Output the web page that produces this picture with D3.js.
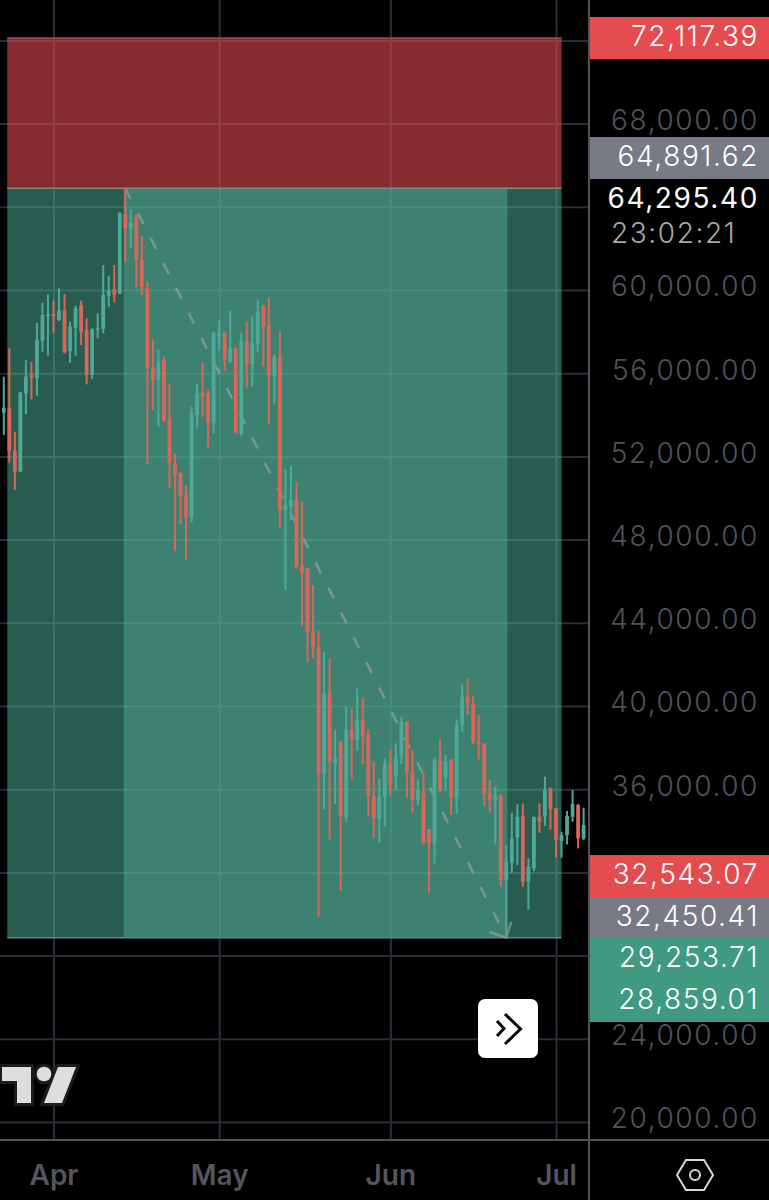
<!DOCTYPE html>
<html>
<head>
<meta charset="utf-8">
<title>Daily candles with short position</title>
<script src="https://cdnjs.cloudflare.com/ajax/libs/d3/7.8.5/d3.min.js"></script>
<style>
	html, body { margin: 0; padding: 0; background: #000; }
	svg { display: block; }
	text { font-family: "Inter", "Roboto", sans-serif; }
</style>
</head>
<body>
<div id="chart"></div>
<script>
//Candles, one per day from 23 Mar
const opens = [54102,54310,52275,51265,55032,55946,55753,57565,58751,58831,58558,59039,57068,58190,59280,58078,55913,58078,58126,59729,60033,59809,63640,62967,63528,61444,60081,56266,55673,56635,53829,51665,51185,50143,49101,53990,55080,55032,53589,57805,57949,56555,57228,53076,57516,56442,57404,59232,58318,55833,56795,49421,49584,49905,46779,46618,43573,42851,36760,40607,37241,38283,34676,38844,38363,39325,38603,35670,34596,35638,37241,36632,37562,39245,36840,35478,35878,34083,33394,37369,36519,37433,35558,39084,40447,40126,38283,38203,35830,35478,35718,31630,32464,33682,34708,31550,32192,34676,34676,36039,35077,33506,33794,34676,35237,33634];
const highs = [55833,57196,53188,55080,56635,56555,58430,59392,59793,59488,60081,59809,58478,59248,59488,58639,58158,58879,61203,60674,61203,63736,64891,63880,63640,62598,60402,57629,57116,56795,55481,52114,51233,50623,54391,55481,56506,55224,57997,58558,57949,59007,57228,57949,58478,58719,59552,59280,59632,56923,58029,51393,51540,50786,49824,46618,45817,43605,42611,42290,38844,38283,39966,39838,40848,40415,38876,37321,36487,37481,37914,38203,39485,39245,37882,36471,36792,34083,37529,38411,37642,37433,39357,41040,41329,40479,39565,38203,36439,36119,35766,33313,34869,35285,35317,32672,34676,35317,36600,36087,35077,33955,34948,35958,35285,35109];
const lows = [53028,51698,50383,51265,54022,54743,54920,57036,56843,57949,58510,56955,56506,56843,57356,55464,55721,57677,57917,59200,59408,59809,61332,62037,60113,59761,51633,54230,53429,53669,50463,47465,48748,47049,48828,53381,53910,52419,53108,57084,56122,56506,53108,52980,55272,55352,57003,56314,53541,54551,48540,45574,48943,46618,43845,42130,42290,29867,35028,33586,35285,31117,34436,36487,37850,37209,34724,33666,33426,34227,35686,35958,37209,35606,34869,35237,33345,31021,32432,35830,35958,34756,34804,38764,39565,38170,37433,35189,34869,33345,31310,28859,31983,32352,31310,30220,32063,33906,34227,34067,32720,32704,33345,34436,33153,33554];
const closes = [54343,52275,51265,55080,55833,55785,57597,58799,58831,58751,59007,57003,58238,59119,57997,55913,58110,58158,59761,59969,59761,63688,62967,63239,61444,60161,56266,55673,56506,53717,51665,51104,50095,49101,54070,55032,54871,53589,57917,57917,56635,57196,53140,57516,56394,57436,58959,58238,55881,56795,49421,49661,49905,46666,46378,43573,42851,36760,40607,37321,37481,34676,38844,38395,39325,38523,35670,34628,35638,37241,36199,37562,39245,36808,35478,35958,33426,33394,37401,35958,37321,35606,39084,40447,40126,38283,38122,35798,35478,35718,31630,32512,33634,34676,31550,32272,34676,34436,35958,35028,33554,33794,34708,35285,33634,34275];

//Tick values
const gridTicks = [20000,24000,28000,32000,36000,40000,44000,48000,52000,56000,60000,64000,68000,72000];
const labelTicks = [20000,24000,36000,40000,44000,48000,52000,56000,60000,68000];
const monthTicks = ["2021-04-01","2021-05-01","2021-06-01","2021-07-01"];

//Short position drawing
const stopPrice = 72117.39;
const entryPrice = 64891.62;
const targetPrice = 28859.01;
const zoneStart = "2021-03-23T15:00";
const zoneEntry = "2021-04-13T17:00";
const zoneExit = "2021-06-22T05:00";
const zoneEnd = "2021-07-02T00:00";
const arrowFrom = "2021-04-14";
const arrowTo = "2021-06-22";

//Price tags on the scale
const tagTexts = ["72,117.39","64,891.62","32,543.07","32,450.41","29,253.71","28,859.01"];
const tagColors = ["#e44c50","#787b86","#e44c50","#787b86","#3f9a80","#3f9a80"];
const tagTops = [17,137,855,897,938,980];

//Plot parameters
const w = 769;
const h = 1200;
const plotW = 589;
const plotH = 1140;
const tagH = 42;
const tagRight = 759;
const label_size = "28px";
const label_spacing = "1.6px";
const color_up = "#4fa999";
const color_down = "#db655a";
const color_grid = "#2a2d38";
const color_axis = "#4f525b";
const color_tick = "#50525a";

const parseDay = d3.utcParse("%Y-%m-%d");
const parseHour = d3.utcParse("%Y-%m-%dT%H:%M");
const days = d3.utcDay.range(parseDay("2021-03-23"), parseDay("2021-07-07"));

//Scale
const xScale = d3.scaleUtc()
	.domain([parseDay("2021-04-01"), parseDay("2021-07-01")])
	.range([53.5, 556]);

const yScale = d3.scaleLinear()
	.domain([20000, 72000])
	.range([1122, 40.4]);

const svg = d3.select("#chart")
	.append("svg")
	.attr("width", w)
	.attr("height", h);

//Grid
svg.append("g")
	.attr("class", "grid-y")
	.attr("transform", "translate(" + plotW + ",0)")
	.call(d3.axisLeft(yScale).tickValues(gridTicks).tickSize(plotW).tickFormat(""))
	.call(g => g.select(".domain").remove())
	.selectAll("line")
	.attr("stroke", color_grid)
	.attr("stroke-width", 2);

svg.append("g")
	.attr("class", "grid-x")
	.attr("transform", "translate(0," + plotH + ")")
	.call(d3.axisBottom(xScale).tickValues(monthTicks.map(parseDay)).tickSize(-plotH).tickFormat(""))
	.call(g => g.select(".domain").remove())
	.selectAll("line")
	.attr("stroke", color_grid)
	.attr("stroke-width", 2);

//Position zones, translucent so that the grid shows through
const left = xScale(parseHour(zoneStart));
const right = xScale(parseHour(zoneEnd));

svg.append("rect")
	.attr("x", left)
	.attr("y", yScale(stopPrice))
	.attr("width", right - left)
	.attr("height", yScale(entryPrice) - yScale(stopPrice))
	.attr("fill", "rgb(220,73,82)")
	.attr("fill-opacity", 0.6);

svg.append("rect")
	.attr("x", left)
	.attr("y", yScale(entryPrice))
	.attr("width", right - left)
	.attr("height", yScale(targetPrice) - yScale(entryPrice))
	.attr("fill", "rgb(80,184,156)")
	.attr("fill-opacity", 0.5);

svg.append("rect")
	.attr("x", xScale(parseHour(zoneEntry)))
	.attr("y", yScale(entryPrice))
	.attr("width", xScale(parseHour(zoneExit)) - xScale(parseHour(zoneEntry)))
	.attr("height", yScale(targetPrice) - yScale(entryPrice))
	.attr("fill", "rgb(82,168,146)")
	.attr("fill-opacity", 0.5);

//Zone edges
[[stopPrice, "#a8494e"], [entryPrice, "#7c8a82"], [targetPrice, "#5f8a7e"]].forEach(function (e) {
	svg.append("line")
		.attr("x1", left)
		.attr("x2", right)
		.attr("y1", yScale(e[0]))
		.attr("y2", yScale(e[0]))
		.attr("stroke", e[1])
		.attr("stroke-width", 1.5);
});

//Dashed arrow
const ax1 = xScale(parseDay(arrowFrom));
const ay1 = yScale(entryPrice);
const ax2 = xScale(parseDay(arrowTo));
const ay2 = yScale(targetPrice);
const arrow_color = "rgba(175,170,165,0.55)";

svg.append("line")
	.attr("x1", ax1)
	.attr("y1", ay1)
	.attr("x2", ax2)
	.attr("y2", ay2)
	.attr("stroke", arrow_color)
	.attr("stroke-width", 2.5)
	.attr("stroke-dasharray", "12 16");

svg.append("path")
	.attr("d", d3.line()([[ax2 - 17, ay2 - 6], [ax2, ay2], [ax2 + 5, ay2 - 16]]))
	.attr("fill", "none")
	.attr("stroke", arrow_color)
	.attr("stroke-width", 2.5);

//Candles
const candles = svg.append("g")
	.selectAll("g")
	.data(days)
	.enter()
	.append("g")
	.attr("fill", (d, i) => closes[i] >= opens[i] ? color_up : color_down);

candles.append("rect")
	.attr("x", (d) => xScale(d) - 1)
	.attr("y", (d, i) => yScale(highs[i]))
	.attr("width", 2)
	.attr("height", (d, i) => yScale(lows[i]) - yScale(highs[i]));

candles.append("rect")
	.attr("x", (d) => xScale(d) - 1.9)
	.attr("y", (d, i) => yScale(Math.max(opens[i], closes[i])))
	.attr("width", 3.8)
	.attr("height", (d, i) => Math.max(1.5, Math.abs(yScale(opens[i]) - yScale(closes[i]))));

//Right scale
svg.append("g")
	.attr("class", "y-axis")
	.attr("transform", "translate(" + plotW + ",0)")
	.call(d3.axisRight(yScale).tickValues(labelTicks).tickSize(0).tickFormat(d3.format(",.2f")))
	.call(g => g.select(".domain").remove())
	.selectAll("text")
	.attr("x", tagRight - plotW)
	.attr("dy", "0.32em")
	.attr("transform", "translate(0,-3)")
	.attr("text-anchor", "end")
	.attr("fill", color_tick)
	.style("font-size", label_size)
	.style("font-weight", 300)
	.style("letter-spacing", label_spacing);

//Last price and countdown
svg.append("text")
	.attr("x", tagRight)
	.attr("y", 208)
	.attr("text-anchor", "end")
	.attr("fill", "#fff")
	.style("font-size", label_size)
	.style("font-weight", 400)
	.style("letter-spacing", label_spacing)
	.text("64,295.40");

svg.append("text")
	.attr("x", 611)
	.attr("y", 243)
	.attr("fill", "#a9a9a9")
	.style("font-size", label_size)
	.style("font-weight", 300)
	.style("letter-spacing", label_spacing)
	.text("23:02:21");

//Tags
const tags = svg.append("g")
	.selectAll("g")
	.data(tagTexts)
	.enter()
	.append("g")
	.attr("transform", (d, i) => "translate(" + (plotW + 1) + "," + tagTops[i] + ")");

tags.append("rect")
	.attr("width", w - plotW)
	.attr("height", tagH)
	.attr("fill", (d, i) => tagColors[i]);

tags.append("text")
	.attr("x", tagRight - plotW - 1)
	.attr("y", tagH / 2 - 2)
	.attr("dy", "0.36em")
	.attr("text-anchor", "end")
	.attr("fill", "#fff")
	.style("font-size", label_size)
	.style("font-weight", 300)
	.style("letter-spacing", label_spacing)
	.text((d) => d);

//Time axis
svg.append("g")
	.attr("class", "x-axis")
	.attr("transform", "translate(0," + plotH + ")")
	.call(d3.axisBottom(xScale).tickValues(monthTicks.map(parseDay)).tickSize(0).tickPadding(25).tickFormat(d3.utcFormat("%b")))
	.call(g => g.select(".domain").remove())
	.selectAll("text")
	.attr("fill", "#54555e")
	.style("font-size", "28px")
	.style("font-weight", 600);

svg.append("line")
	.attr("x1", 0)
	.attr("x2", w)
	.attr("y1", plotH)
	.attr("y2", plotH)
	.attr("stroke", color_axis)
	.attr("stroke-width", 2);

svg.append("line")
	.attr("x1", plotW)
	.attr("x2", plotW)
	.attr("y1", 0)
	.attr("y2", h)
	.attr("stroke", color_axis)
	.attr("stroke-width", 2);

//Scroll button
svg.append("rect")
	.attr("x", 478)
	.attr("y", 999)
	.attr("width", 60)
	.attr("height", 59)
	.attr("rx", 7)
	.attr("fill", "#fff");

svg.append("path")
	.attr("d", "M497,1021 L504,1028.5 L497,1036 M505,1014 L520.5,1029 L505,1044")
	.attr("fill", "none")
	.attr("stroke", "#000")
	.attr("stroke-width", 3);

//Logo
const logo = svg.append("g")
	.attr("fill", "#dedede")
	.attr("stroke", "#1c1c1c")
	.attr("stroke-width", 6)
	.style("paint-order", "stroke");

logo.append("path").attr("d", "M2,1067 L31,1067 L31,1103 L17,1103 L17,1081 L2,1081 Z");
logo.append("circle").attr("cx", 44).attr("cy", 1074).attr("r", 7.3);
logo.append("path").attr("d", "M58,1067 L76,1067 L62,1103 L44,1103 Z");

//Settings icon
svg.append("path")
	.attr("d", "M686,1160 L704,1160 L713,1175 L704,1190 L686,1190 L677,1175 Z")
	.attr("fill", "none")
	.attr("stroke", "#d8d8d8")
	.attr("stroke-width", 2);

svg.append("circle")
	.attr("cx", 695)
	.attr("cy", 1175)
	.attr("r", 5)
	.attr("fill", "none")
	.attr("stroke", "#d8d8d8")
	.attr("stroke-width", 2);
</script>
</body>
</html>
